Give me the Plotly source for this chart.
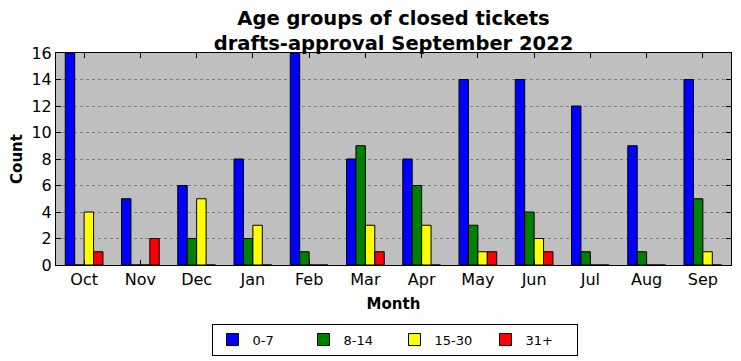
import plotly.graph_objects as go

months = ["Oct", "Nov", "Dec", "Jan", "Feb", "Mar", "Apr", "May", "Jun", "Jul", "Aug", "Sep"]
age_0_7 = [16, 5, 6, 8, 16, 8, 8, 14, 14, 12, 9, 14]
age_8_14 = [0, 0, 2, 2, 1, 9, 6, 3, 4, 1, 1, 5]
age_15_30 = [4, 0, 5, 3, 0, 3, 3, 1, 2, 0, 0, 1]
age_31_plus = [1, 2, 0, 0, 0, 1, 0, 1, 1, 0, 0, 0]
y_ticks = [0, 2, 4, 6, 8, 10, 12, 14, 16]

series = [("0-7", age_0_7, "#0000ff"), ("8-14", age_8_14, "#008000"),
          ("15-30", age_15_30, "#ffff00"), ("31+", age_31_plus, "#ff0000")]

fig = go.Figure()
for name, vals, col in series:
    fig.add_trace(go.Bar(x=months, y=vals, name=name,
                         marker=dict(color=col, line=dict(color="black", width=1))))

font = "DejaVu Sans, sans-serif"
# page body has an 8px default margin, so the figure is sized/offset to compensate
fig.update_layout(
    width=733, height=353,
    margin=dict(l=48, r=10, t=45, b=96, autoexpand=False),
    paper_bgcolor="white", plot_bgcolor="#bfbfbf",
    barmode="group", bargap=0.33, bargroupgap=0,
    font=dict(family=font, color="black"),
    title=dict(text="<b>Age groups of closed tickets<br>drafts-approval September 2022</b>",
               x=0.5, xanchor="center", xref="paper", yref="container", y=0.953, yanchor="top",
               font=dict(size=19.5, family=font)),
    showlegend=True,
    legend=dict(orientation="h", x=0.5015, xanchor="center",
                yref="container", y=0.106, yanchor="top",
                bordercolor="black", borderwidth=1, font=dict(size=13),
                traceorder="normal", entrywidth=46, entrywidthmode="pixels"),
)
fig.update_xaxes(
    range=[-0.5, 11.5], showline=True, linecolor="black", linewidth=1, mirror="ticks",
    ticks="inside", ticklen=5, tickcolor="black", tickfont=dict(size=16), automargin=False,
    title=dict(text="<b>Month</b>", font=dict(size=15), standoff=10), showgrid=False,
)
fig.update_yaxes(
    range=[0, 16], tickvals=y_ticks, showline=True, linecolor="black", linewidth=1, mirror="ticks",
    ticks="inside", ticklen=5, tickcolor="black", tickfont=dict(size=16), automargin=False,
    title=dict(text="<b>Count</b>", font=dict(size=15), standoff=6),
    showgrid=True, gridcolor="#808080", griddash="dot", gridwidth=1, zeroline=False,
)
fig.write_html("out.html")
